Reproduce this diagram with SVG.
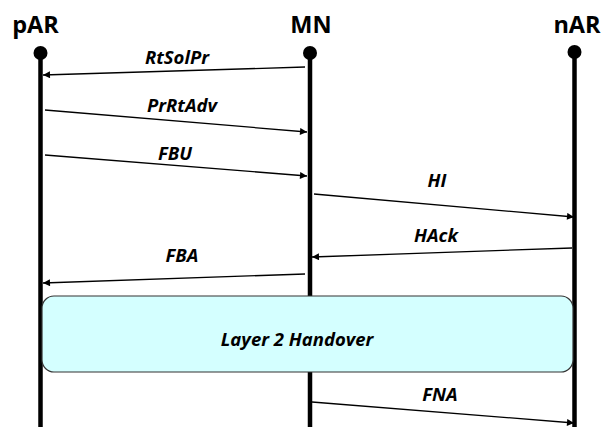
<svg xmlns="http://www.w3.org/2000/svg" width="602" height="427" viewBox="0 0 602 427">
<style>
.title{font-family:"Open Sans","Noto Sans",sans-serif;font-weight:bold;font-size:23.5px;fill:#000;text-anchor:middle}
.lbl{font-family:"Open Sans","Noto Sans",sans-serif;font-weight:bold;font-style:italic;font-size:18.5px;fill:#000;text-anchor:middle}
.life{stroke:#000;stroke-width:4.5;fill:none}
.msg{stroke:#000;stroke-width:1.3;fill:none;marker-end:url(#ah)}
</style>
<defs>
<marker id="ah" viewBox="0 0 10 10" refX="10" refY="5" markerWidth="9" markerHeight="7" markerUnits="userSpaceOnUse" orient="auto">
<path d="M0,0 L10,5 L0,10 Z" fill="#000"/>
</marker>
</defs>
<rect width="602" height="427" fill="#fff"/>
<g id="pAR">
<text class="title" x="35.5" y="33">pAR</text>
<line class="life" x1="40.5" y1="53" x2="40.5" y2="427"/>
<circle cx="40.5" cy="53" r="7" fill="#000"/>
</g>
<g id="MN">
<text class="title" x="311" y="33">MN</text>
<line class="life" x1="310" y1="53" x2="310" y2="427"/>
<circle cx="310" cy="53" r="7" fill="#000"/>
</g>
<g id="nAR">
<text class="title" x="577" y="33">nAR</text>
<line class="life" x1="574.5" y1="52" x2="574.5" y2="427"/>
<circle cx="574.5" cy="52" r="7" fill="#000"/>
</g>
<g id="handover">
<rect x="42" y="296" width="531" height="76" rx="12" ry="12" fill="#D4FFFF" stroke="#333" stroke-width="1.2"/>
<text class="lbl" x="297" y="346">Layer 2 Handover</text>
</g>
<g id="connectors">
<line class="msg" x1="305" y1="67" x2="43" y2="75"/>
<text class="lbl" x="177" y="64">RtSolPr</text>
<line class="msg" x1="45" y1="110" x2="307" y2="132"/>
<text class="lbl" x="182" y="112">PrRtAdv</text>
<line class="msg" x1="45" y1="155" x2="307" y2="176"/>
<text class="lbl" x="175" y="160">FBU</text>
<line class="msg" x1="314" y1="194" x2="574" y2="217"/>
<text class="lbl" x="437" y="187">HI</text>
<line class="msg" x1="572" y1="248" x2="312" y2="257"/>
<text class="lbl" x="436" y="242">HAck</text>
<line class="msg" x1="305" y1="274" x2="43" y2="283"/>
<text class="lbl" x="182" y="262">FBA</text>
<line class="msg" x1="312" y1="402" x2="574" y2="423"/>
<text class="lbl" x="440" y="401">FNA</text>
</g>
</svg>
